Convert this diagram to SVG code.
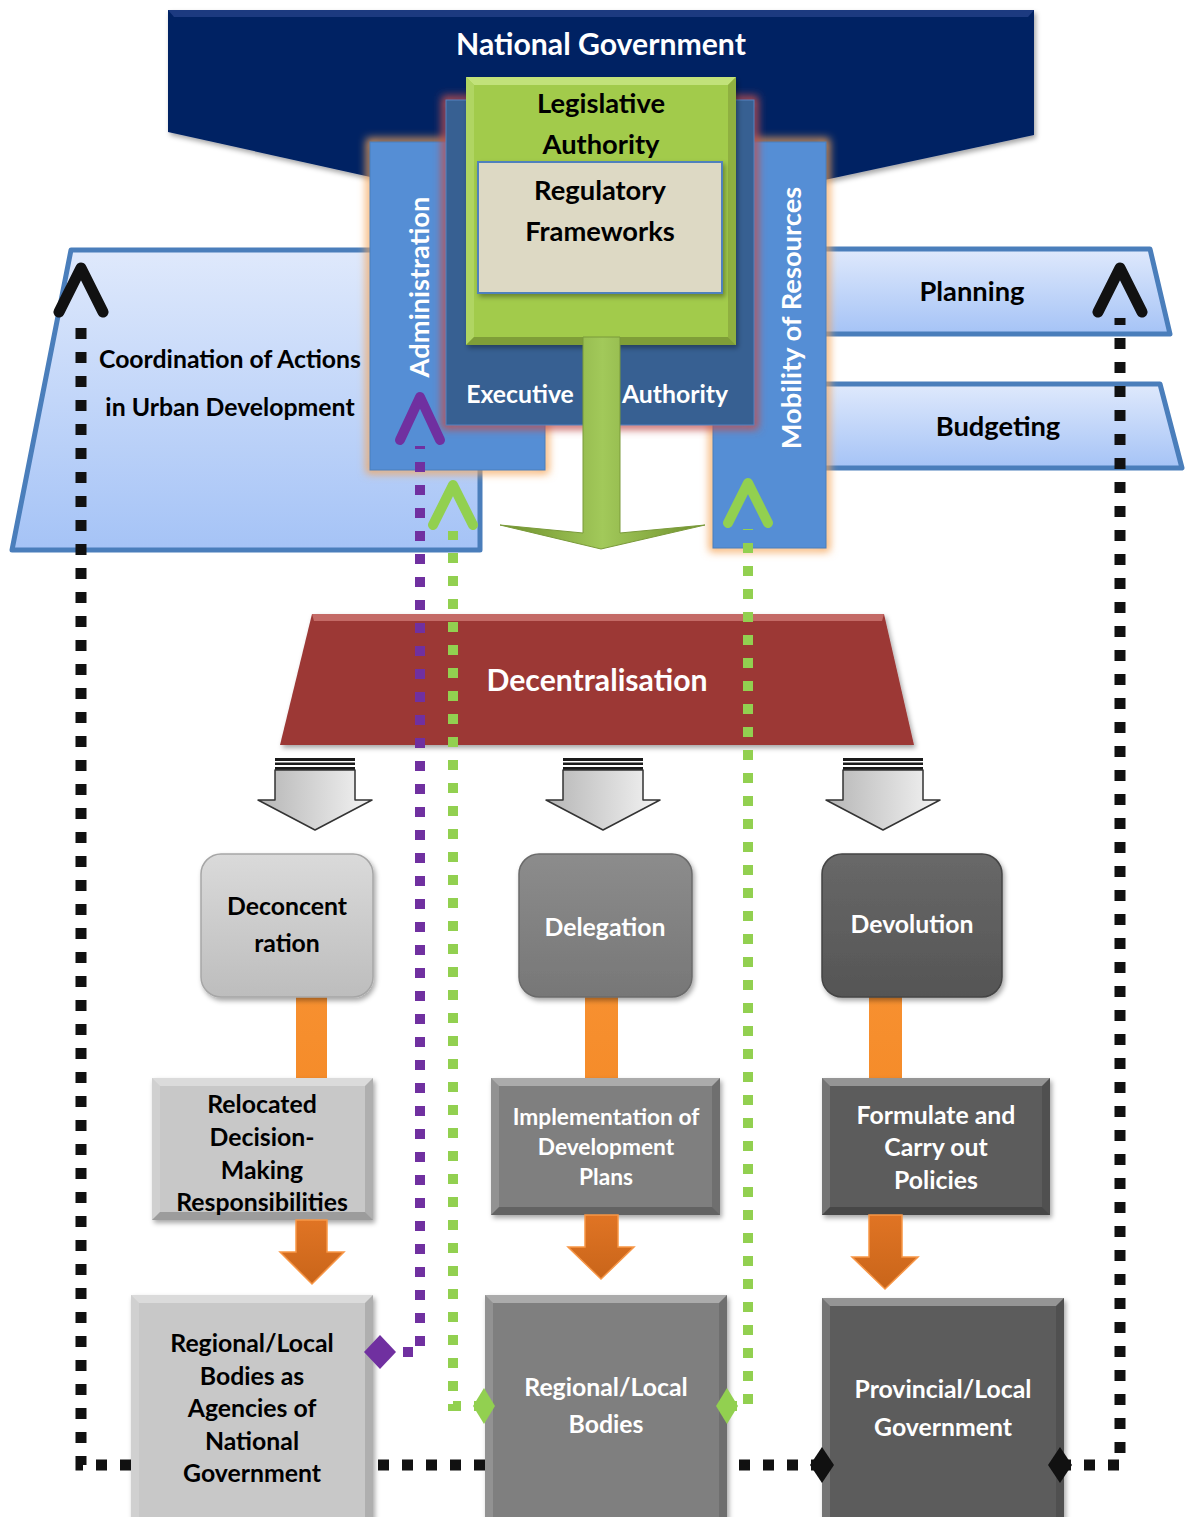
<svg xmlns="http://www.w3.org/2000/svg" xmlns:xlink="http://www.w3.org/1999/xlink" width="1194" height="1517" viewBox="0 0 1194 1517">
  <defs>
    <style>
      .t{font-family:Lato,'Open Sans','Liberation Sans',sans-serif;font-weight:700;text-anchor:middle;font-size:24.8px}
      .w{fill:#fff}
      .k{fill:#000}
      .big{font-size:30.2px}
      .mid{font-size:27.3px}
      .sm{font-size:22.7px}
      .dk{fill:none;stroke:#111;stroke-width:11;stroke-dasharray:11 13}
      .dp{fill:none;stroke:#7030a0;stroke-width:10;stroke-dasharray:10 13}
      .dg{fill:none;stroke:#92d050;stroke-width:10;stroke-dasharray:10 13}
      .hl{fill:#fff;opacity:.35}
      .hl2{fill:#fff;opacity:.15}
      .sh{fill:#000;opacity:.22}
      .sh2{fill:#000;opacity:.12}
      .band{stroke:#4a7ebb;stroke-width:5;stroke-linejoin:round}
      .orng{fill:url(#gOrange);stroke:#f79646;stroke-width:1.5}
    </style>
    <linearGradient id="gBand" x1="0" y1="0" x2="0" y2="1">
      <stop offset="0" stop-color="#dfe9fc"/>
      <stop offset="1" stop-color="#a5c3f6"/>
    </linearGradient>
    <linearGradient id="gGreenArrow" x1="0" y1="0" x2="1" y2="0">
      <stop offset="0" stop-color="#6e8f2c"/>
      <stop offset=".5" stop-color="#a2c95a"/>
      <stop offset="1" stop-color="#6e8f2c"/>
    </linearGradient>
    <linearGradient id="gGrayArrow" x1="0" y1="0" x2="1" y2="0">
      <stop offset="0" stop-color="#b5b5b5"/>
      <stop offset="1" stop-color="#f4f4f4"/>
    </linearGradient>
    <linearGradient id="gOrange" x1="0" y1="0" x2="0" y2="1">
      <stop offset="0" stop-color="#e07424"/>
      <stop offset="1" stop-color="#c9651a"/>
    </linearGradient>
    <linearGradient id="gStem" x1="0" y1="0" x2="0" y2="1">
      <stop offset="0" stop-color="#f79030"/>
      <stop offset="1" stop-color="#f58c2a"/>
    </linearGradient>
    <linearGradient id="gRL" x1="0" y1="0" x2="0" y2="1">
      <stop offset="0" stop-color="#dadada"/>
      <stop offset="1" stop-color="#bdbdbd"/>
    </linearGradient>
    <linearGradient id="gRM" x1="0" y1="0" x2="0" y2="1">
      <stop offset="0" stop-color="#8c8c8c"/>
      <stop offset="1" stop-color="#777"/>
    </linearGradient>
    <linearGradient id="gRD" x1="0" y1="0" x2="0" y2="1">
      <stop offset="0" stop-color="#686868"/>
      <stop offset="1" stop-color="#555"/>
    </linearGradient>
    <filter id="ds" x="-10%" y="-10%" width="130%" height="130%">
      <feDropShadow dx="2" dy="3" stdDeviation="2.5" flood-color="#000" flood-opacity=".35"/>
    </filter>
    <filter id="glow" x="-20%" y="-20%" width="140%" height="140%">
      <feGaussianBlur stdDeviation="4"/>
    </filter>
    <!-- striped grey block arrow, centred on x=0 -->
    <g id="blockArrow">
      <rect x="-40" y="758" width="80" height="12" fill="#1a1a1a"/>
      <rect x="-40" y="761" width="80" height="1.5" fill="#fff"/>
      <rect x="-40" y="765" width="80" height="2" fill="#fff"/>
      <polygon points="-40,770 40,770 40,800 57,800 0,830 -57,800 -40,800" fill="url(#gGrayArrow)" stroke="#333" stroke-width="1.5" stroke-linejoin="round"/>
    </g>
    <marker id="chevK" markerUnits="userSpaceOnUse" orient="auto" refX="0" refY="0" markerWidth="1" markerHeight="1" overflow="visible">
      <path d="M6,-22 L50,0 L6,22" fill="none" stroke="#111" stroke-width="11" stroke-linecap="round" stroke-linejoin="round"/>
    </marker>
    <marker id="chevP" markerUnits="userSpaceOnUse" orient="auto" refX="0" refY="0" markerWidth="1" markerHeight="1" overflow="visible">
      <path d="M6,-20 L49,0 L6,20" fill="none" stroke="#7030a0" stroke-width="10" stroke-linecap="round" stroke-linejoin="round"/>
    </marker>
    <marker id="chevG" markerUnits="userSpaceOnUse" orient="auto" refX="0" refY="0" markerWidth="1" markerHeight="1" overflow="visible">
      <path d="M6,-20 L46,0 L6,20" fill="none" stroke="#92d050" stroke-width="10" stroke-linecap="round" stroke-linejoin="round"/>
    </marker>
    <marker id="diaK" markerUnits="userSpaceOnUse" orient="auto" refX="0" refY="0" markerWidth="1" markerHeight="1" overflow="visible">
      <polygon points="-12,0 0,-18 12,0 0,18" fill="#111"/>
    </marker>
    <marker id="diaP" markerUnits="userSpaceOnUse" orient="auto" refX="0" refY="0" markerWidth="1" markerHeight="1" overflow="visible">
      <polygon points="-16,0 0,-17 16,0 0,17" fill="#7030a0"/>
    </marker>
    <marker id="diaG" markerUnits="userSpaceOnUse" orient="auto" refX="0" refY="0" markerWidth="1" markerHeight="1" overflow="visible">
      <polygon points="-11,0 0,-18 11,0 0,18" fill="#92d050"/>
    </marker>
  </defs>

  <rect width="1194" height="1517" fill="#fff"/>

  <!-- national government banner -->
  <g id="national-government">
    <polygon points="168,10 1034,10 1034,135 601,228 168,132" fill="#062364" filter="url(#ds)"/>
    <polygon points="168,10 1034,10 1028,17 174,17" fill="#1c3a80"/>
    <text class="t w big" x="601" y="55">National Government</text>
  </g>

  <!-- side bands -->
  <g id="coordination">
    <polygon class="band" points="71,250 480,250 480,550 12,550" fill="url(#gBand)"/>
    <text class="t k" x="230" y="368">Coordination of Actions</text>
    <text class="t k" x="230" y="416">in Urban Development</text>
  </g>
  <g id="planning">
    <polygon class="band" points="800,249 1150,249 1170,334 800,334" fill="url(#gBand)"/>
    <text class="t k mid" x="972" y="301">Planning</text>
  </g>
  <g id="budgeting">
    <polygon class="band" points="800,384 1160,384 1182,468 800,468" fill="url(#gBand)"/>
    <text class="t k mid" x="998" y="436">Budgeting</text>
  </g>

  <!-- administration column -->
  <g id="administration">
    <rect x="370" y="142" width="175" height="328" fill="none" stroke="#f5a65a" stroke-width="7" filter="url(#glow)"/>
    <rect x="370" y="142" width="175" height="328" fill="#558ed5" stroke="#4a7ebb" stroke-width="1"/>
    <text class="t w mid" transform="translate(429,287) rotate(-90)">Administration</text>
  </g>

  <!-- mobility of resources column -->
  <g id="mobility">
    <rect x="713" y="142" width="113" height="406" fill="none" stroke="#f5a65a" stroke-width="7" filter="url(#glow)"/>
    <rect x="713" y="142" width="113" height="406" fill="#558ed5" stroke="#4a7ebb" stroke-width="1"/>
    <text class="t w mid" transform="translate(801,318) rotate(-90)">Mobility of Resources</text>
  </g>

  <!-- executive authority -->
  <g id="executive">
    <rect x="446" y="100" width="308" height="325" fill="none" stroke="#c0504d" stroke-width="8" filter="url(#glow)"/>
    <rect x="446" y="100" width="308" height="325" fill="#376092" stroke="#5682c0" stroke-width="1"/>
    <text class="t w" x="520" y="403">Executive</text>
    <text class="t w" x="675" y="403">Authority</text>
  </g>

  <!-- legislative authority -->
  <g id="legislative">
    <rect x="466" y="77" width="270" height="268" fill="#a2cb4c" filter="url(#ds)"/>
    <polygon points="466,77 736,77 728,85 474,85" fill="#c2e27a"/>
    <polygon points="466,77 474,85 474,337 466,345" fill="#b0d562"/>
    <polygon points="736,77 736,345 728,337 728,85" fill="#8fb040"/>
    <polygon points="466,345 736,345 728,337 474,337" fill="#7f9e38"/>
    <text class="t k mid" x="601" y="113">Legislative</text>
    <text class="t k mid" x="601" y="154">Authority</text>
  </g>
  <g id="regulatory">
    <rect x="478" y="162" width="244" height="131" fill="#ddd9c4" stroke="#4f81bd" stroke-width="2" filter="url(#ds)"/>
    <text class="t k mid" x="600" y="200">Regulatory</text>
    <text class="t k mid" x="600" y="241">Frameworks</text>
  </g>

  <!-- green flow arrow out of the authority block -->
  <g id="green-arrow">
    <polygon points="583,337 620,337 620,533 705,525 601,549 500,525 583,533" fill="url(#gGreenArrow)" stroke="#7a9a3a" stroke-width="1" stroke-linejoin="round"/>
  </g>

  <!-- decentralisation -->
  <g id="decentralisation">
    <polygon points="312,614 884,614 914,745 280,745" fill="#9c3836" filter="url(#ds)"/>
    <polygon points="312,614 884,614 882,621 314,621" fill="#c46a66"/>
    <text class="t w big" x="597" y="691">Decentralisation</text>
  </g>

  <!-- striped arrows below decentralisation -->
  <use id="arrow-left" xlink:href="#blockArrow" href="#blockArrow" x="315"/>
  <use id="arrow-mid" xlink:href="#blockArrow" href="#blockArrow" x="603"/>
  <use id="arrow-right" xlink:href="#blockArrow" href="#blockArrow" x="883"/>

  <!-- stems from the three forms to their roles -->
  <g id="stems">
    <rect x="296" y="995" width="31" height="85" fill="url(#gStem)"/>
    <rect x="585" y="995" width="33" height="85" fill="url(#gStem)"/>
    <rect x="869" y="995" width="33" height="85" fill="url(#gStem)"/>
  </g>

  <g id="deconcentration">
    <rect x="201" y="854" width="172" height="143" rx="20" fill="url(#gRL)" stroke="#a6a6a6" stroke-width="1.5" filter="url(#ds)"/>
    <text class="t k" x="287" y="915">Deconcent</text>
    <text class="t k" x="287" y="952">ration</text>
  </g>
  <g id="delegation">
    <rect x="519" y="854" width="173" height="143" rx="20" fill="url(#gRM)" stroke="#6b6b6b" stroke-width="1.5" filter="url(#ds)"/>
    <text class="t w" x="605" y="936">Delegation</text>
  </g>
  <g id="devolution">
    <rect x="822" y="854" width="180" height="143" rx="20" fill="url(#gRD)" stroke="#444" stroke-width="1.5" filter="url(#ds)"/>
    <text class="t w" x="912" y="933">Devolution</text>
  </g>

  <g id="relocated">
    <rect x="152" y="1078" width="221" height="142" fill="#c8c8c8" filter="url(#ds)"/>
    <polygon class="hl" points="152,1078 373,1078 365,1086 160,1086"/>
    <polygon class="hl2" points="152,1078 160,1086 160,1212 152,1220"/>
    <polygon class="sh2" points="373,1078 365,1086 365,1212 373,1220"/>
    <polygon class="sh" points="152,1220 373,1220 365,1212 160,1212"/>
    <text class="t k" x="262" y="1113">Relocated</text>
    <text class="t k" x="262" y="1146">Decision-</text>
    <text class="t k" x="262" y="1179">Making</text>
    <text class="t k" x="262" y="1211">Responsibilities</text>
  </g>
  <g id="implementation">
    <rect x="491" y="1078" width="229" height="137" fill="#7f7f7f" filter="url(#ds)"/>
    <polygon class="hl" points="491,1078 720,1078 712,1086 499,1086"/>
    <polygon class="hl2" points="491,1078 499,1086 499,1207 491,1215"/>
    <polygon class="sh2" points="720,1078 712,1086 712,1207 720,1215"/>
    <polygon class="sh" points="491,1215 720,1215 712,1207 499,1207"/>
    <text class="t w sm" x="606" y="1125">Implementation of</text>
    <text class="t w sm" x="606" y="1155">Development</text>
    <text class="t w sm" x="606" y="1185">Plans</text>
  </g>
  <g id="formulate">
    <rect x="822" y="1078" width="228" height="137" fill="#5c5c5c" filter="url(#ds)"/>
    <polygon class="hl" points="822,1078 1050,1078 1042,1086 830,1086"/>
    <polygon class="hl2" points="822,1078 830,1086 830,1207 822,1215"/>
    <polygon class="sh2" points="1050,1078 1042,1086 1042,1207 1050,1215"/>
    <polygon class="sh" points="822,1215 1050,1215 1042,1207 830,1207"/>
    <text class="t w" x="936" y="1124">Formulate and</text>
    <text class="t w" x="936" y="1156">Carry out</text>
    <text class="t w" x="936" y="1189">Policies</text>
  </g>

  <!-- orange arrows down to the bodies -->
  <g id="down-arrows">
    <polygon class="orng" points="296,1220 327,1220 327,1252 344,1252 312,1284 280,1252 296,1252"/>
    <polygon class="orng" points="585,1215 618,1215 618,1247 634,1247 601,1279 568,1247 585,1247"/>
    <polygon class="orng" points="869,1215 902,1215 902,1257 918,1257 885,1289 852,1257 869,1257"/>
  </g>

  <g id="agencies">
    <rect x="131" y="1295" width="242" height="240" fill="#c8c8c8" filter="url(#ds)"/>
    <polygon class="hl" points="131,1295 373,1295 365,1303 139,1303"/>
    <polygon class="hl2" points="131,1295 139,1303 139,1530 131,1530"/>
    <polygon class="sh2" points="373,1295 365,1303 365,1530 373,1530"/>
    <text class="t k" x="252" y="1352">Regional/Local</text>
    <text class="t k" x="252" y="1385">Bodies as</text>
    <text class="t k" x="252" y="1417">Agencies of</text>
    <text class="t k" x="252" y="1450">National</text>
    <text class="t k" x="252" y="1482">Government</text>
  </g>
  <g id="regional-bodies">
    <rect x="485" y="1295" width="242" height="240" fill="#7f7f7f" filter="url(#ds)"/>
    <polygon class="hl" points="485,1295 727,1295 719,1303 493,1303"/>
    <polygon class="hl2" points="485,1295 493,1303 493,1530 485,1530"/>
    <polygon class="sh2" points="727,1295 719,1303 719,1530 727,1530"/>
    <text class="t w" x="606" y="1396">Regional/Local</text>
    <text class="t w" x="606" y="1433">Bodies</text>
  </g>
  <g id="provincial">
    <rect x="822" y="1298" width="242" height="240" fill="#5c5c5c" filter="url(#ds)"/>
    <polygon class="hl" points="822,1298 1064,1298 1056,1306 830,1306"/>
    <polygon class="hl2" points="822,1298 830,1306 830,1530 822,1530"/>
    <polygon class="sh2" points="1064,1298 1056,1306 1056,1530 1064,1530"/>
    <text class="t w" x="943" y="1398">Provincial/Local</text>
    <text class="t w" x="943" y="1436">Government</text>
  </g>

  <!-- dotted feedback connectors -->
  <g id="connectors">
    <path class="dk" d="M822 1465 H727 M485 1465 H373 M131 1465 H81 V318" marker-start="url(#diaK)" marker-end="url(#chevK)"/>
    <path class="dk" d="M1060 1465 H1120 V318" marker-start="url(#diaK)" marker-end="url(#chevK)"/>
    <path class="dp" d="M380 1352 H420 V446" marker-start="url(#diaP)" marker-end="url(#chevP)"/>
    <path class="dg" d="M484 1406 H453 V531" marker-start="url(#diaG)" marker-end="url(#chevG)"/>
    <path class="dg" d="M727 1406 H748 V529" marker-start="url(#diaG)" marker-end="url(#chevG)"/>
  </g>
</svg>
